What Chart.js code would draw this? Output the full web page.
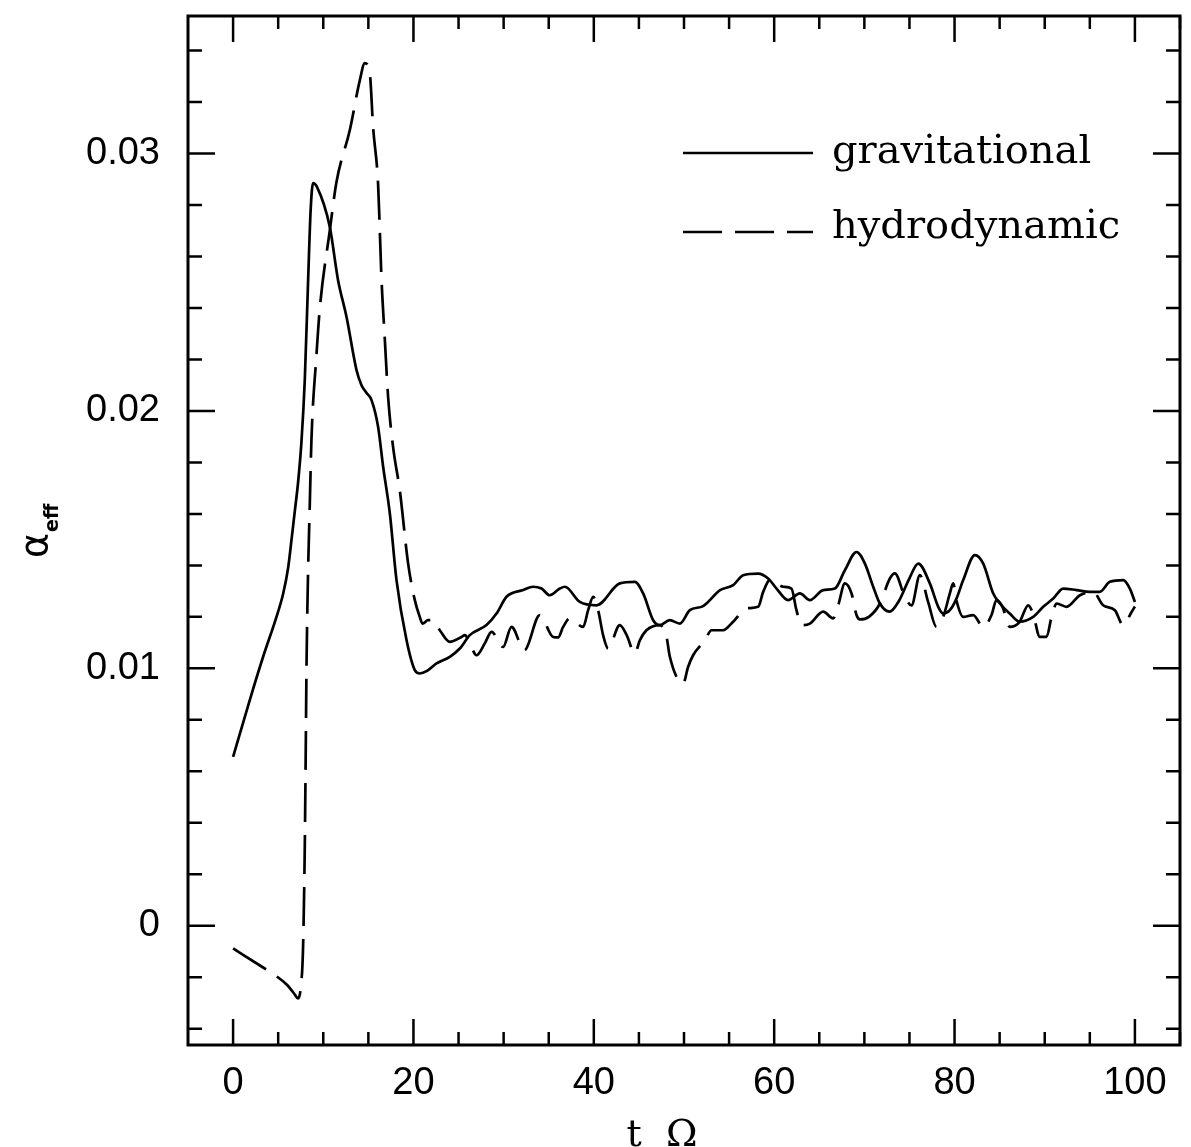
<!DOCTYPE html>
<html>
<head>
<meta charset="utf-8">
<script src="https://cdn.jsdelivr.net/npm/chart.js@4.4.1/dist/chart.umd.min.js"></script>
<style>
  html, body { margin: 0; padding: 0; background: #fff; }
  #wrap { width: 1191px; height: 1147px; }
</style>
</head>
<body>
<div id="wrap"><canvas id="alpha" width="1191" height="1147"></canvas></div>
<script>
// values
const tGrav = [0, 1.85, 3.33, 4.81, 5.55, 6.1, 6.48, 6.84, 7.2, 7.58, 7.95, 8.32, 8.6, 8.87, 9.3, 10.72, 11.64,
  12.58, 13.69, 14.24, 14.8, 15.35, 16.08, 16.64, 17.38, 18.12, 19.23, 20.15, 20.7, 21.5, 22.56, 24.03,
  25.14, 26.25, 28.1, 29.21, 30.32, 32.16, 33.27, 34.2, 35.12, 36.23, 36.79, 38.45, 40.3, 42.88, 44.55,
  45.47, 46.58, 47.32, 48.43, 49.54, 50.65, 52.12, 54.0, 55.45, 56.56, 58.22, 59.33, 60.26, 61.55, 62.85,
  63.96, 65.43, 66.73, 67.84, 69.13, 70.06, 70.98, 71.72, 72.8, 73.8, 75.0, 75.97, 77.26, 78.19, 78.74,
  79.48, 80.2, 80.96, 82.26, 83.18, 84.29, 85.03, 86.13, 87.24, 88.72, 89.83, 90.94, 92.05, 93.53, 95.01,
  96.1, 97.22, 98.7, 99.44, 100];
const aGrav = [0.00656, 0.00877, 0.01045, 0.0120, 0.0129, 0.0139, 0.0150, 0.0161, 0.0172, 0.0188, 0.0212, 0.02508, 0.0278, 0.02885, 0.0287, 0.02715, 0.02508,
  0.02365, 0.02158, 0.0210, 0.0207, 0.02042, 0.01938, 0.01783, 0.01602, 0.01343, 0.0111, 0.00993, 0.0098, 0.0099, 0.01019, 0.01045,
  0.01077, 0.01129, 0.01168, 0.01213, 0.01278, 0.01304, 0.01317, 0.0131, 0.01284, 0.0131, 0.01317, 0.01258, 0.01245, 0.0133, 0.01336,
  0.01291, 0.01187, 0.01168, 0.01187, 0.01174, 0.01226, 0.01242, 0.01304, 0.01323, 0.01362, 0.01368, 0.01349, 0.0131, 0.01265, 0.01291,
  0.01265, 0.01304, 0.0131, 0.01381, 0.01452, 0.01407, 0.01317, 0.01252, 0.0122, 0.0126, 0.0135, 0.01407, 0.0133, 0.01239, 0.01213,
  0.01226, 0.0127, 0.01343, 0.0144, 0.01407, 0.01291, 0.01252, 0.01213, 0.01181, 0.012, 0.01239, 0.01271, 0.0131, 0.01304, 0.01297,
  0.01297, 0.01336, 0.01343, 0.0131, 0.01258];

const tHydro = [0, 3.33, 4.62, 6.0, 6.7, 7.21, 7.5, 7.76, 7.95, 8.06, 8.14, 8.3, 8.5, 8.69, 9.25, 9.62, 10.72,
  11.47, 12.94, 14.05, 14.6, 15.16, 15.53, 16.08, 16.46, 16.83, 17.19, 17.74, 18.49, 19.41, 20.15, 20.7,
  21.0, 21.62, 22.18, 22.92, 24.03, 25.33, 25.7, 26.25, 26.99, 27.91, 28.66, 29.94, 30.87, 32.3, 34.01,
  35.49, 36.04, 36.6, 37.34, 38.82, 39.37, 39.93, 40.48, 41.03, 41.59, 42.88, 43.63, 44.55, 45.1, 45.84,
  47.32, 48.06, 48.43, 49.9, 50.46, 51.01, 52.31, 53.06, 54.34, 55.45, 56.94, 58.22, 58.78, 59.52, 61.0,
  61.92, 62.47, 63.03, 63.96, 65.43, 66.54, 67.1, 67.84, 68.58, 69.13, 69.5, 70.5, 71.7, 72.83, 73.38,
  74.49, 75.23, 76.16, 77.07, 78.0, 78.74, 79.48, 79.85, 80.2, 80.96, 82.07, 83.18, 84.1, 84.65, 85.3,
  86.13, 87.2, 88.17, 88.72, 89.46, 90.2, 90.76, 91.32, 92.42, 93.9, 95.38, 96.48, 97.78, 98.7, 99.63, 100];
const aHydro = [-0.00088, -0.00162, -0.00191, -0.0023, -0.0026, -0.00282, -0.0024, -0.00082, 0.00307, 0.00695, 0.0100, 0.0135, 0.0163, 0.0189, 0.0222, 0.0240, 0.0270,
  0.0289, 0.0309, 0.03284, 0.03351, 0.0331, 0.0310, 0.0288, 0.0251, 0.02275, 0.02054, 0.0186, 0.0169, 0.01407, 0.01265, 0.0120,
  0.01174, 0.01187, 0.01187, 0.01148, 0.01103, 0.01122, 0.01129, 0.01097, 0.01051, 0.01097, 0.01142, 0.01083, 0.01161, 0.0107, 0.01207,
  0.01122, 0.0112, 0.01161, 0.01194, 0.01161, 0.01226, 0.01278, 0.01226, 0.01129, 0.01077, 0.01168, 0.0113, 0.01058, 0.01109, 0.01148,
  0.01168, 0.01122, 0.01045, 0.00941, 0.01006, 0.01051, 0.01109, 0.01148, 0.01148, 0.01181, 0.01233, 0.01239, 0.01297, 0.01343, 0.01317,
  0.0131, 0.01226, 0.01168, 0.01174, 0.0122, 0.01194, 0.01245, 0.0133, 0.01291, 0.01207, 0.0119, 0.0120, 0.0125, 0.01349, 0.01369,
  0.01278, 0.01245, 0.01362, 0.01258, 0.01161, 0.012, 0.01291, 0.0133, 0.01265, 0.012, 0.01207, 0.01161, 0.01207, 0.01265, 0.0124,
  0.01161, 0.0118, 0.01245, 0.0121, 0.01122, 0.01122, 0.012, 0.01252, 0.01239, 0.01284, 0.01297, 0.01245, 0.01226, 0.01168, 0.01219, 0.0124];

const seriesNames = ['gravitational', 'hydrodynamic'];
const xTicks = [0, 20, 40, 60, 80, 100];
const xTickLabels = ['0', '20', '40', '60', '80', '100'];
const yTicks = [0, 0.01, 0.02, 0.03];
const yTickLabels = ['0', '0.01', '0.02', '0.03'];
const xMinorStep = 5;
const yMinorStep = 0.002;

function toPoints(ts, vs) {
  return ts.map(function (t, i) { return { x: t, y: vs[i] }; });
}

// frame with inward ticks on all four sides, titles and the inset legend
const framePlugin = {
  id: 'frame',
  afterDraw: function (chart) {
    const ctx = chart.ctx;
    const a = chart.chartArea;
    const xs = chart.scales.x, ys = chart.scales.y;
    ctx.save();
    ctx.strokeStyle = '#000';
    ctx.lineWidth = 3;
    ctx.strokeRect(a.left, a.top, a.right - a.left, a.bottom - a.top);

    ctx.lineWidth = 2.5;
    ctx.beginPath();
    for (let v = 0; v <= xs.max + 1e-9; v += xMinorStep) {
      const px = xs.getPixelForValue(v);
      const len = xTicks.indexOf(v) >= 0 ? 26 : 13;
      ctx.moveTo(px, a.bottom); ctx.lineTo(px, a.bottom - len);
      ctx.moveTo(px, a.top); ctx.lineTo(px, a.top + len);
    }
    for (let k = -2; k * yMinorStep <= ys.max + 1e-9; k++) {
      const v = k * yMinorStep;
      const py = ys.getPixelForValue(v);
      const len = (k % 5 === 0) ? 27 : 14;
      ctx.moveTo(a.left, py); ctx.lineTo(a.left + len, py);
      ctx.moveTo(a.right, py); ctx.lineTo(a.right - len, py);
    }
    ctx.stroke();

    // legend
    ctx.lineWidth = 2.7;
    ctx.beginPath();
    ctx.moveTo(683, 153); ctx.lineTo(813, 153);
    ctx.stroke();
    ctx.setLineDash([39, 13]);
    ctx.beginPath();
    ctx.moveTo(683, 232); ctx.lineTo(813, 232);
    ctx.stroke();
    ctx.setLineDash([]);
    ctx.fillStyle = '#000';
    ctx.font = '40px "DejaVu Serif"';
    ctx.textAlign = 'left';
    ctx.textBaseline = 'alphabetic';
    ctx.fillText(seriesNames[0], 832, 163);
    ctx.fillText(seriesNames[1], 832, 238);

    // x title
    ctx.font = '38px "DejaVu Serif"';
    ctx.textAlign = 'center';
    ctx.fillText('t  \u03A9', 662, 1146);

    // y title, rotated
    ctx.translate(47, 558);
    ctx.rotate(-Math.PI / 2);
    ctx.textAlign = 'left';
    ctx.font = '38px "DejaVu Sans"';
    ctx.fillText('\u03B1', 0, 0);
    ctx.font = 'bold 19px "DejaVu Sans"';
    ctx.fillText('eff', 26, 11);
    ctx.restore();
  }
};

window.addEventListener('load', function () {
  const context = document.querySelector('#alpha').getContext('2d');
  new Chart(context, {
    type: 'line',
    data: {
      datasets: [{
        label: seriesNames[0],
        data: toPoints(tGrav, aGrav),
        borderColor: '#000',
        borderWidth: 2.7,
        pointRadius: 0,
        cubicInterpolationMode: 'monotone',
        fill: false
      }, {
        label: seriesNames[1],
        data: toPoints(tHydro, aHydro),
        borderColor: '#000',
        borderWidth: 2.7,
        borderDash: [39, 13],
        pointRadius: 0,
        cubicInterpolationMode: 'monotone',
        fill: false
      }]
    },
    options: {
      responsive: false,
      animation: false,
      layout: { padding: { left: 0, right: 11, top: 16, bottom: 0 } },
      plugins: { legend: { display: false }, tooltip: { enabled: false } },
      scales: {
        x: {
          type: 'linear',
          min: -5,
          max: 105,
          afterBuildTicks: function (s) { s.ticks = xTicks.map(function (v) { return { value: v }; }); },
          afterFit: function (s) { s.height = 102; s.paddingLeft = 0; s.paddingRight = 0; },
          grid: { display: false, drawTicks: false },
          border: { display: false },
          ticks: {
            color: '#000',
            padding: 16,
            maxRotation: 0,
            font: { family: 'Liberation Sans', size: 38 },
            callback: function (v) { const i = xTicks.indexOf(v); return i >= 0 ? xTickLabels[i] : ''; }
          }
        },
        y: {
          type: 'linear',
          min: -0.00463,
          max: 0.03534,
          afterBuildTicks: function (s) { s.ticks = yTicks.map(function (v) { return { value: v }; }); },
          afterFit: function (s) { s.width = 188; s.paddingTop = 0; s.paddingBottom = 0; },
          grid: { display: false, drawTicks: false },
          border: { display: false },
          ticks: {
            color: '#000',
            padding: 28,
            font: { family: 'Liberation Sans', size: 38 },
            callback: function (v) { const i = yTicks.indexOf(v); return i >= 0 ? yTickLabels[i] : ''; }
          }
        }
      }
    },
    plugins: [framePlugin]
  });
});
</script>
</body>
</html>
